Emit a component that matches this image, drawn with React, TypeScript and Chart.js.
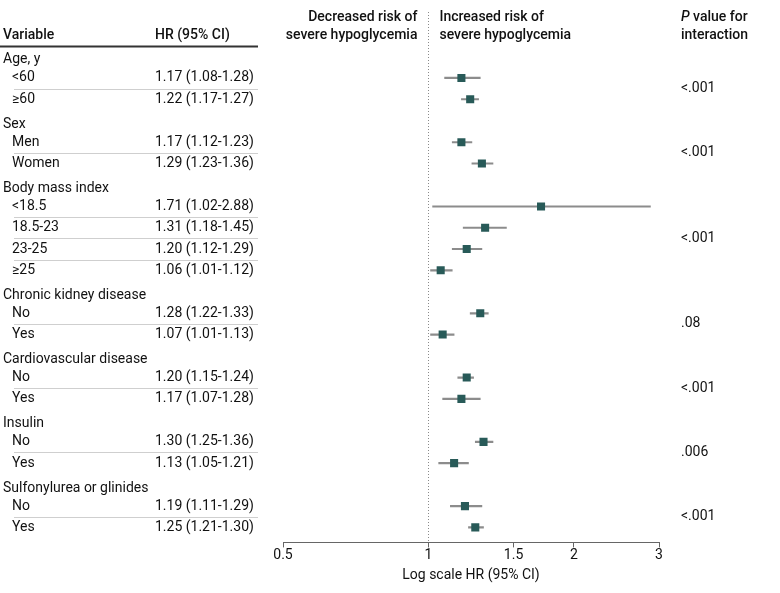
import React, { useEffect, useRef } from 'react';
import { Chart, registerables } from 'chart.js';

Chart.register(...registerables);

// ---- data ----
const groups = ['Age, y', 'Sex', 'Body mass index', 'Chronic kidney disease', 'Cardiovascular disease', 'Insulin', 'Sulfonylurea or glinides'];
const groupSizes = [2, 2, 4, 2, 2, 2, 2];
const subgroups = ['<60', '≥60', 'Men', 'Women', '<18.5', '18.5-23', '23-25', '≥25', 'No', 'Yes', 'No', 'Yes', 'No', 'Yes', 'No', 'Yes'];
const hr = [1.17, 1.22, 1.17, 1.29, 1.71, 1.31, 1.20, 1.06, 1.28, 1.07, 1.20, 1.17, 1.30, 1.13, 1.19, 1.25];
const ciLow = [1.08, 1.17, 1.12, 1.23, 1.02, 1.18, 1.12, 1.01, 1.22, 1.01, 1.15, 1.07, 1.25, 1.05, 1.11, 1.21];
const ciHigh = [1.28, 1.27, 1.23, 1.36, 2.88, 1.45, 1.29, 1.12, 1.33, 1.13, 1.24, 1.28, 1.36, 1.21, 1.29, 1.30];
const pValues = ['<.001', '<.001', '<.001', '.08', '<.001', '.006', '<.001'];
const xTicks = [0.5, 1, 1.5, 2, 3];

// ---- row layout (in row units) ----
const HEADER_TO_ITEM = 0.845;
const GROUP_GAP = 1.176;
const groupY: number[] = [];
const itemY: number[] = [];
const itemGroup: number[] = [];
(() => {
  let pos = 0;
  groups.forEach((_, gi) => {
    if (gi > 0) pos += GROUP_GAP;
    groupY.push(pos);
    pos += HEADER_TO_ITEM;
    for (let k = 0; k < groupSizes[gi]; k++) {
      if (k > 0) pos += 1;
      itemY.push(pos);
      itemGroup.push(gi);
    }
  });
})();
const Y_MIN = -2.254;
const Y_MAX = 22.676;
const HEAD_LINE1 = -1.972;
const HEAD_LINE2 = -1.127;

const FONT = 'Roboto, Lato, sans-serif';
const MARKER = '#285a58';

const tablePlugin = {
  id: 'tablePlugin',
  beforeDatasetsDraw(chart: any) {
    const { ctx, chartArea, scales } = chart;
    const x1 = scales.x.getPixelForValue(1);
    ctx.save();
    ctx.strokeStyle = '#8a8a8a';
    ctx.lineWidth = 1;
    ctx.setLineDash([1, 2]);
    ctx.beginPath();
    ctx.moveTo(Math.round(x1) + 0.5, chartArea.top);
    ctx.lineTo(Math.round(x1) + 0.5, chartArea.bottom);
    ctx.stroke();
    ctx.restore();
  },
  afterDraw(chart: any) {
    const { ctx, scales } = chart;
    const ys = scales.y;
    const x1 = scales.x.getPixelForValue(1);
    const py = (v: number) => ys.getPixelForValue(v);
    ctx.save();
    ctx.textBaseline = 'middle';
    ctx.fillStyle = '#111';

    // column headers
    ctx.font = `500 14px ${FONT}`;
    ctx.textAlign = 'left';
    ctx.fillText('Variable', 3, py(HEAD_LINE2));
    ctx.fillText('HR (95% CI)', 155, py(HEAD_LINE2));
    ctx.textAlign = 'right';
    ctx.fillText('Decreased risk of', x1 - 11, py(HEAD_LINE1));
    ctx.fillText('severe hypoglycemia', x1 - 11, py(HEAD_LINE2));
    ctx.textAlign = 'left';
    ctx.fillText('Increased risk of', x1 + 11, py(HEAD_LINE1));
    ctx.fillText('severe hypoglycemia', x1 + 11, py(HEAD_LINE2));
    ctx.font = `italic 500 14px ${FONT}`;
    ctx.fillText('P', 681, py(HEAD_LINE1));
    const pw = ctx.measureText('P ').width;
    ctx.font = `500 14px ${FONT}`;
    ctx.fillText('value for', 681 + pw, py(HEAD_LINE1));
    ctx.fillText('interaction', 681, py(HEAD_LINE2));

    // header underline
    const hLine = py(HEAD_LINE2) + 10.5;
    ctx.strokeStyle = '#333';
    ctx.lineWidth = 2;
    ctx.beginPath();
    ctx.moveTo(0, hLine);
    ctx.lineTo(258, hLine);
    ctx.stroke();

    ctx.font = `14px ${FONT}`;
    // group headers and p values
    let idx = 0;
    groups.forEach((g, gi) => {
      ctx.textAlign = 'left';
      ctx.fillText(g, 3, py(groupY[gi]));
      const first = itemY[idx];
      const last = itemY[idx + groupSizes[gi] - 1];
      ctx.fillText(pValues[gi], 681, py((first + last) / 2));
      idx += groupSizes[gi];
    });

    // item rows
    ctx.strokeStyle = '#cfcfcf';
    ctx.lineWidth = 1;
    itemY.forEach((y, i) => {
      ctx.fillText(subgroups[i], 12, py(y));
      ctx.fillText(`${hr[i].toFixed(2)} (${ciLow[i].toFixed(2)}-${ciHigh[i].toFixed(2)})`, 155, py(y));
      if (i + 1 < itemY.length && itemGroup[i + 1] === itemGroup[i]) {
        const ly = Math.round(py((y + itemY[i + 1]) / 2)) + 0.5;
        ctx.beginPath();
        ctx.moveTo(14, ly);
        ctx.lineTo(258, ly);
        ctx.stroke();
      }
    });
    ctx.restore();
  },
};

export default function App() {
  const ref = useRef<HTMLCanvasElement>(null);
  useEffect(() => {
    if (!ref.current) return;
    const chart = new Chart(ref.current, {
      type: 'scatter',
      data: {
        datasets: [
          {
            type: 'scatter',
            data: itemY.map((y, i) => ({ x: hr[i], y })),
            pointStyle: 'rect',
            pointRadius: 5.7,
            pointHoverRadius: 5.7,
            backgroundColor: MARKER,
            borderWidth: 0,
            order: 0,
          } as any,
          {
            type: 'bar',
            indexAxis: 'y',
            data: itemY.map((y, i) => ({ x: [ciLow[i], ciHigh[i]], y })),
            backgroundColor: '#8c8c8c',
            borderWidth: 0,
            barThickness: 1.5,
            order: 1,
          } as any,
        ],
      },
      options: {
        animation: false,
        responsive: false,
        events: [],
        layout: { padding: { left: 283, right: 121, top: 12, bottom: 9 } },
        plugins: { legend: { display: false }, tooltip: { enabled: false } },
        scales: {
          x: {
            type: 'logarithmic',
            min: 0.5,
            max: 3,
            offset: false,
            afterBuildTicks: (s: any) => {
              s.ticks = xTicks.map((v) => ({ value: v }));
            },
            ticks: {
              callback: (v: any) => String(v),
              font: { family: FONT, size: 14 },
              color: '#111',
              padding: 0,
              maxRotation: 0,
              autoSkip: false,
            },
            grid: { drawOnChartArea: false, drawTicks: true, tickLength: 5, tickColor: '#666' },
            border: { display: true, color: '#666', width: 1 },
            title: {
              display: true,
              text: 'Log scale HR (95% CI)',
              font: { family: FONT, size: 14 },
              color: '#111',
              padding: { top: 3, bottom: 0 },
            },
          },
          y: { type: 'linear', display: false, offset: false, min: Y_MIN, max: Y_MAX, reverse: true },
        },
      },
      plugins: [tablePlugin],
    } as any);
    return () => chart.destroy();
  }, []);
  return (
    <div style={{ position: 'absolute', left: 0, top: 0, width: 780, height: 593, background: '#fff' }}>
      <canvas ref={ref} width={780} height={593} style={{ display: 'block' }} />
    </div>
  );
}
